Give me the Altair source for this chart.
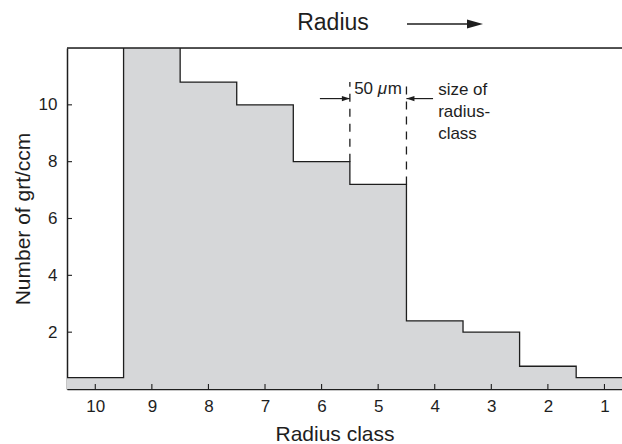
import altair as alt
import pandas as pd

# Radius classes (largest radius on the left) and number of grains per ccm
classes = [10, 9, 8, 7, 6, 5, 4, 3, 2, 1]
counts = [0.4, 14.0, 10.8, 10.0, 8.0, 7.2, 2.4, 2.0, 0.8, 0.4]
y_ticks = [2, 4, 6, 8, 10]

# class-width annotation around class 5
dash_x = [5.5, 4.5]
dash_low = [8.0, 7.2]
dash_top = 10.8
arrow_y = 10.22
note_lines = ["size of", "radius-", "class"]

FONT = "Liberation Sans"
GREY = "#d6d7d9"
INK = "#1e1e1e"
W, H = 555, 341

# arrowhead outlines with the tip at the origin (symbol units span -1..1)
TIP_RIGHT = "M0,0L-1,-0.32L-1,0.32Z"
TIP_LEFT = "M0,0L1,-0.32L1,0.32Z"

xs = alt.Scale(domain=[10.5, 0.69], nice=False, zero=False)
ys = alt.Scale(domain=[0, 12], nice=False, zero=False)

# step profile drawn left to right: each class starts at its left boundary
step_x = [c + 0.5 for c in classes] + [min(classes) - 0.5]
step_n = counts + [counts[-1]]
profile = pd.DataFrame({"x": step_x, "n": step_n, "seq": list(range(len(step_x)))})

axis_common = dict(tickSize=0, labelFontSize=17, titleFontSize=21,
                   titleFont=FONT, labelFont=FONT, domainColor=INK,
                   labelColor=INK, titleColor=INK, titleFontWeight="normal",
                   grid=False, domainWidth=1.5)

fill = alt.Chart(profile).mark_area(
    interpolate="step-after", color=GREY, opacity=1, clip=True
).encode(
    x=alt.X("x:Q", scale=xs,
            axis=alt.Axis(values=classes, format="d", title="Radius class",
                          labelPadding=9, titlePadding=9, titleX=267.5,
                          **axis_common)),
    y=alt.Y("n:Q", scale=ys, stack=None,
            axis=alt.Axis(values=y_ticks, format="d", title="Number of grt/ccm",
                          labelPadding=10, titlePadding=5, **axis_common)),
)

line = alt.Chart(profile).mark_line(
    interpolate="step-after", color=INK, strokeWidth=1.3, clip=True
).encode(
    x=alt.X("x:Q", scale=xs),
    y=alt.Y("n:Q", scale=ys),
    order="seq:Q",
)

# inward tick marks
xticks = alt.Chart(pd.DataFrame({"cls": classes})).mark_rule(
    color=INK, strokeWidth=1.1
).encode(
    x=alt.X("cls:Q", scale=xs),
    y=alt.value(H),
    y2=alt.value(H - 5),
)
yticks = alt.Chart(pd.DataFrame({"v": y_ticks})).mark_rule(
    color=INK, strokeWidth=1.1
).encode(
    y=alt.Y("v:Q", scale=ys),
    x=alt.value(0),
    x2=alt.value(5),
)

# top frame line
top = alt.Chart(pd.DataFrame({"a": [0]})).mark_rule(color=INK, strokeWidth=1.5).encode(
    x=alt.value(0), x2=alt.value(W), y=alt.value(0)
)

dash_df = pd.DataFrame({"x": dash_x, "lo": dash_low, "hi": [dash_top] * 2})
dashes = alt.Chart(dash_df).mark_rule(
    color=INK, strokeWidth=1.3, strokeDash=[8, 7]
).encode(
    x=alt.X("x:Q", scale=xs),
    y=alt.Y("lo:Q", scale=ys),
    y2="hi:Q",
)

arrow_df = pd.DataFrame({"x1": [6.03, 4.5], "x2": [5.5, 4.03], "y": [arrow_y] * 2})
arrow_lines = alt.Chart(arrow_df).mark_rule(color=INK, strokeWidth=1.2).encode(
    x=alt.X("x1:Q", scale=xs),
    x2="x2:Q",
    y=alt.Y("y:Q", scale=ys),
)
tip_r = alt.Chart(pd.DataFrame({"x": [dash_x[0]], "y": [arrow_y]})).mark_point(
    shape=TIP_RIGHT, filled=True, color=INK, size=256, opacity=1, strokeWidth=0
).encode(x=alt.X("x:Q", scale=xs), y=alt.Y("y:Q", scale=ys))
tip_l = alt.Chart(pd.DataFrame({"x": [dash_x[1]], "y": [arrow_y]})).mark_point(
    shape=TIP_LEFT, filled=True, color=INK, size=256, opacity=1, strokeWidth=0
).encode(x=alt.X("x:Q", scale=xs), y=alt.Y("y:Q", scale=ys))

# "50 µm" label centred over class 5, with an italic mu
lab_df = pd.DataFrame({"x": [5.0], "y": [10.38]})
label_50 = alt.Chart(lab_df).mark_text(
    text="50", font=FONT, fontSize=17, color=INK, align="left",
    baseline="alphabetic", dx=-24
).encode(x=alt.X("x:Q", scale=xs), y=alt.Y("y:Q", scale=ys))
label_mu = alt.Chart(lab_df).mark_text(
    text="μ", font=FONT, fontSize=17, fontStyle="italic", color=INK, align="left",
    baseline="alphabetic", dx=-0.5
).encode(x=alt.X("x:Q", scale=xs), y=alt.Y("y:Q", scale=ys))
label_m = alt.Chart(lab_df).mark_text(
    text="m", font=FONT, fontSize=17, color=INK, align="left",
    baseline="alphabetic", dx=9.5
).encode(x=alt.X("x:Q", scale=xs), y=alt.Y("y:Q", scale=ys))

size_note = alt.Chart(pd.DataFrame({"x": [3.94], "y": [10.52]})).mark_text(
    text=note_lines, font=FONT, fontSize=17, color=INK,
    align="left", baseline="middle", lineHeight=22
).encode(x=alt.X("x:Q", scale=xs), y=alt.Y("y:Q", scale=ys))

# "Radius" heading with direction arrow above the plot
heading = alt.Chart(pd.DataFrame({"a": [0]})).mark_text(
    text="Radius", font=FONT, fontSize=23, color=INK, align="center", baseline="middle"
).encode(x=alt.value(266), y=alt.value(-25))
head_rule = alt.Chart(pd.DataFrame({"a": [0]})).mark_rule(color=INK, strokeWidth=1.4).encode(
    x=alt.value(340), x2=alt.value(405), y=alt.value(-24)
)
head_tip = alt.Chart(pd.DataFrame({"a": [0]})).mark_point(
    shape="M0,0L-1,-0.28L-1,0.28Z", filled=True, color=INK, size=1024,
    opacity=1, strokeWidth=0
).encode(x=alt.value(416), y=alt.value(-24))

chart = alt.layer(
    fill, line, xticks, yticks, top, dashes, arrow_lines, tip_r, tip_l,
    label_50, label_mu, label_m, size_note, heading, head_rule, head_tip
).properties(
    width=W, height=H,
    autosize=alt.AutoSizeParams(type="none"),
    padding={"left": 67, "top": 48, "right": 0, "bottom": 55},
).configure_view(stroke=None).configure(background="white")

chart.save("out.html", embed_options={"renderer": "svg", "actions": False})
